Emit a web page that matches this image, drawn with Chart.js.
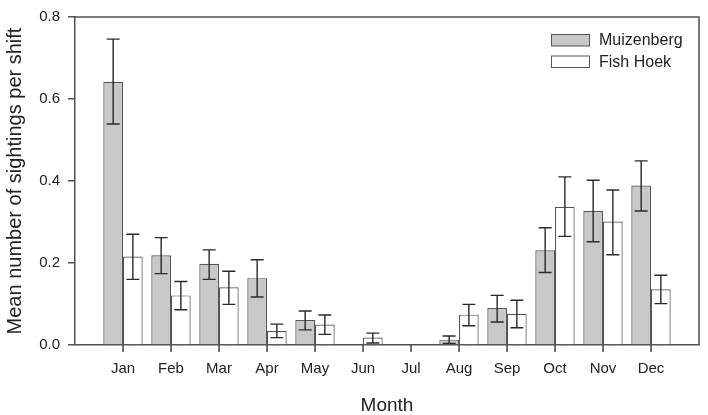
<!DOCTYPE html>
<html>
<head>
<meta charset="utf-8">
<script src="https://cdn.jsdelivr.net/npm/chart.js@4/dist/chart.umd.min.js"></script>
<style>
html,body{margin:0;padding:0;background:#fff;}
canvas{display:block;}
</style>
</head>
<body>
<canvas id="c" width="708" height="415"></canvas>
<script>
const months = ['Jan','Feb','Mar','Apr','May','Jun','Jul','Aug','Sep','Oct','Nov','Dec'];
const muizenberg     = [0.642, 0.219, 0.198, 0.163, 0.061, null, null, 0.013, 0.090, 0.231, 0.327, 0.389];
const muizenbergLow  = [0.539, 0.174, 0.160, 0.117, 0.037, null, null, 0.004, 0.056, 0.177, 0.252, 0.327];
const muizenbergHigh = [0.746, 0.262, 0.232, 0.208, 0.083, null, null, 0.022, 0.121, 0.286, 0.402, 0.449];
const fishHoek       = [0.216, 0.121, 0.141, 0.034, 0.050, 0.018, null, 0.074, 0.076, 0.337, 0.301, 0.136];
const fishHoekLow    = [0.160, 0.086, 0.099, 0.018, 0.026, 0.005, null, 0.047, 0.042, 0.265, 0.220, 0.101];
const fishHoekHigh   = [0.270, 0.155, 0.180, 0.051, 0.073, 0.029, null, 0.099, 0.109, 0.410, 0.378, 0.170];
const yTicks = [0.0, 0.2, 0.4, 0.6, 0.8];
const seriesNames = ['Muizenberg', 'Fish Hoek'];

const pad = arr => [null].concat(arr, [null]);
const labels = [''].concat(months, ['']);
const FONT = "'Liberation Sans', Arial, sans-serif";
const TXT = '#222';
const AX = '#505050';

const errorBars = {
  id: 'errorBars',
  afterDatasetsDraw(chart) {
    const ctx = chart.ctx;
    const y = chart.scales.y;
    const lows = [pad(muizenbergLow), pad(fishHoekLow)];
    const highs = [pad(muizenbergHigh), pad(fishHoekHigh)];
    ctx.save();
    ctx.strokeStyle = '#2a2a2a';
    ctx.lineWidth = 1.4;
    chart.data.datasets.forEach((ds, di) => {
      const meta = chart.getDatasetMeta(di);
      meta.data.forEach((bar, i) => {
        const lo = lows[di][i], hi = highs[di][i];
        if (lo == null || hi == null) return;
        const x = bar.x;
        const yl = y.getPixelForValue(lo), yh = y.getPixelForValue(hi);
        const cw = 6.5;
        ctx.beginPath();
        ctx.moveTo(x, yl); ctx.lineTo(x, yh);
        ctx.moveTo(x - cw, yh); ctx.lineTo(x + cw, yh);
        ctx.moveTo(x - cw, yl); ctx.lineTo(x + cw, yl);
        ctx.stroke();
      });
    });
    ctx.restore();
  }
};

const frameAndLegend = {
  id: 'frameAndLegend',
  afterDraw(chart) {
    const ctx = chart.ctx;
    const a = chart.chartArea;
    const xs = chart.scales.x;
    ctx.save();
    ctx.strokeStyle = AX;
    ctx.lineWidth = 1.5;
    ctx.beginPath();
    ctx.moveTo(a.left, a.top);
    ctx.lineTo(a.right, a.top);
    ctx.lineTo(a.right, a.bottom);
    ctx.stroke();
    // month tick marks from the library's x scale
    ctx.strokeStyle = '#444';
    ctx.lineWidth = 1.5;
    ctx.beginPath();
    months.forEach((m, i) => {
      const px = xs.getPixelForValue(i + 1);
      ctx.moveTo(px, a.bottom);
      ctx.lineTo(px, a.bottom + 7);
    });
    ctx.stroke();
    ctx.restore();
    ctx.save();
    // legend
    const fills = ['#c8c8c8', '#ffffff'];
    const bx = 551.5, bw = 38, bh = 11.5;
    const rows = [34.5, 56];
    ctx.lineWidth = 1;
    ctx.font = '16px ' + FONT;
    ctx.textBaseline = 'middle';
    ctx.textAlign = 'left';
    seriesNames.forEach((name, i) => {
      ctx.fillStyle = fills[i];
      ctx.fillRect(bx, rows[i], bw, bh);
      ctx.strokeStyle = '#555';
      ctx.strokeRect(bx, rows[i], bw, bh);
      ctx.fillStyle = TXT;
      ctx.fillText(name, 599, rows[i] + bh / 2 + 0.5);
    });
    ctx.restore();
  }
};

new Chart(document.getElementById('c'), {
  type: 'bar',
  data: {
    labels: labels,
    datasets: [
      { label: seriesNames[0], data: pad(muizenberg), backgroundColor: '#c8c8c8', borderColor: '#555', borderWidth: 1.2 },
      { label: seriesNames[1], data: pad(fishHoek), backgroundColor: '#ffffff', borderColor: '#555', borderWidth: 1.2 }
    ]
  },
  options: {
    responsive: false,
    devicePixelRatio: 1,
    animation: false,
    events: [],
    layout: { padding: { top: 11, right: 6, left: 0, bottom: 0 } },
    datasets: { bar: { categoryPercentage: 0.82, barPercentage: 1.0 } },
    plugins: { legend: { display: false }, tooltip: { enabled: false } },
    scales: {
      x: {
        type: 'category',
        offset: false,
        grid: { display: true, drawOnChartArea: false, drawTicks: true, tickLength: 6, color: 'rgba(0,0,0,0)' },
        border: { display: true, color: AX, width: 1.5 },
        ticks: { font: { family: FONT, size: 15 }, color: TXT, padding: 9, maxRotation: 0, autoSkip: false },
        title: { display: true, text: 'Month', font: { family: FONT, size: 19, lineHeight: 1.0 }, color: TXT, padding: { top: 0, bottom: 0 } },
        afterFit: s => { s.height = 70; }
      },
      y: {
        min: 0, max: 0.8,
        afterBuildTicks: s => { s.ticks = yTicks.map(v => ({ value: v })); },
        grid: { drawOnChartArea: false, drawTicks: true, tickLength: 7, lineWidth: 1.5, color: AX },
        border: { display: true, color: AX, width: 1.5 },
        ticks: { font: { family: FONT, size: 15 }, color: TXT, padding: 8, callback: v => Number(v).toFixed(1) },
        title: { display: true, text: 'Mean number of sightings per shift', font: { family: FONT, size: 20, lineHeight: 1.0 }, color: TXT, padding: { top: 5, bottom: 0 } },
        afterFit: s => { s.width = 75; }
      }
    }
  },
  plugins: [errorBars, frameAndLegend]
});
</script>
</body>
</html>
